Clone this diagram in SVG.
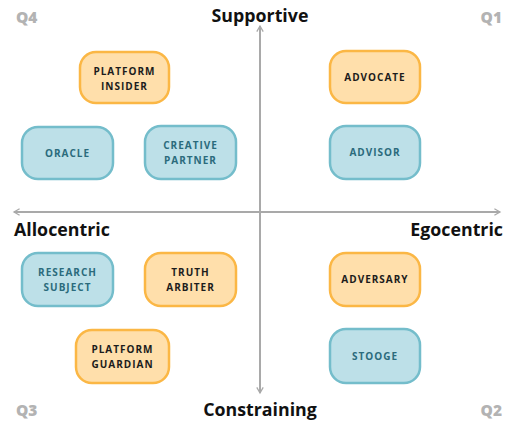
<svg xmlns="http://www.w3.org/2000/svg" width="508" height="424" viewBox="0 0 508 424">
<defs>
<marker id="arr" viewBox="0 0 10 10" refX="8" refY="5" markerWidth="8" markerHeight="8" markerUnits="userSpaceOnUse" orient="auto">
<path d="M1,1 L8,5 L1,9" fill="none" stroke="#a9a9a9" stroke-width="1.6"/>
</marker>
<style>
.axis{stroke:#a9a9a9;stroke-width:2;fill:none}
.ax{font-family:"Open Sans","DejaVu Sans",sans-serif;font-weight:700;font-size:17.8px;fill:#111}
.q{font-family:"Open Sans","DejaVu Sans",sans-serif;font-weight:800;font-size:15.5px;fill:#b3b3b3}
.o rect{fill:#ffdfab;stroke:#fbb745;stroke-width:2.5}
.b rect{fill:#bde0e8;stroke:#74bdcb;stroke-width:2.5}
.o text,.b text{font-family:"Open Sans","DejaVu Sans",sans-serif;font-weight:700;font-size:10px;letter-spacing:1px;text-anchor:middle}
.o text{fill:#1c1c1c}
.b text{fill:#2b6b7c}
</style>
</defs>
<g id="connectors">
<line class="axis" x1="260" y1="393" x2="260" y2="26" marker-end="url(#arr)"/>
<line class="axis" x1="260" y1="26" x2="260" y2="393" marker-end="url(#arr)"/>
<line class="axis" x1="14" y1="212" x2="500" y2="212" marker-end="url(#arr)"/>
<line class="axis" x1="500" y1="212" x2="14" y2="212" marker-end="url(#arr)"/>
</g>
<g id="labels">
<text class="ax" x="260" y="22" text-anchor="middle">Supportive</text>
<text class="ax" x="260" y="416" text-anchor="middle">Constraining</text>
<text class="ax" x="14" y="236">Allocentric</text>
<text class="ax" x="503" y="236" text-anchor="end">Egocentric</text>
<text class="q" x="16" y="23">Q4</text>
<text class="q" x="502" y="23" text-anchor="end">Q1</text>
<text class="q" x="16" y="416">Q3</text>
<text class="q" x="502" y="416" text-anchor="end">Q2</text>
</g>
<g id="platform-insider" class="o"><rect x="80" y="52" width="89" height="51" rx="16"/><text x="124.5" y="74.5">PLATFORM</text><text x="124.5" y="89.5">INSIDER</text></g>
<g id="oracle" class="b"><rect x="22" y="127" width="91" height="52" rx="16"/><text x="67.5" y="156.5">ORACLE</text></g>
<g id="creative-partner" class="b"><rect x="145" y="126" width="91" height="53" rx="16"/><text x="190.5" y="149">CREATIVE</text><text x="190.5" y="164">PARTNER</text></g>
<g id="advocate" class="o"><rect x="330" y="51" width="90" height="52" rx="16"/><text x="375" y="81">ADVOCATE</text></g>
<g id="advisor" class="b"><rect x="330" y="126" width="90" height="53" rx="16"/><text x="375" y="156">ADVISOR</text></g>
<g id="research-subject" class="b"><rect x="22" y="253" width="91" height="53" rx="16"/><text x="67.5" y="276">RESEARCH</text><text x="67.5" y="291">SUBJECT</text></g>
<g id="truth-arbiter" class="o"><rect x="145" y="253" width="91" height="53" rx="16"/><text x="190.5" y="276">TRUTH</text><text x="190.5" y="291">ARBITER</text></g>
<g id="platform-guardian" class="o"><rect x="76" y="330" width="93" height="53" rx="16"/><text x="122.5" y="353">PLATFORM</text><text x="122.5" y="368">GUARDIAN</text></g>
<g id="adversary" class="o"><rect x="330" y="253" width="90" height="53" rx="16"/><text x="375" y="282.5">ADVERSARY</text></g>
<g id="stooge" class="b"><rect x="330" y="329" width="90" height="54" rx="16"/><text x="375" y="359.5">STOOGE</text></g>
</svg>
